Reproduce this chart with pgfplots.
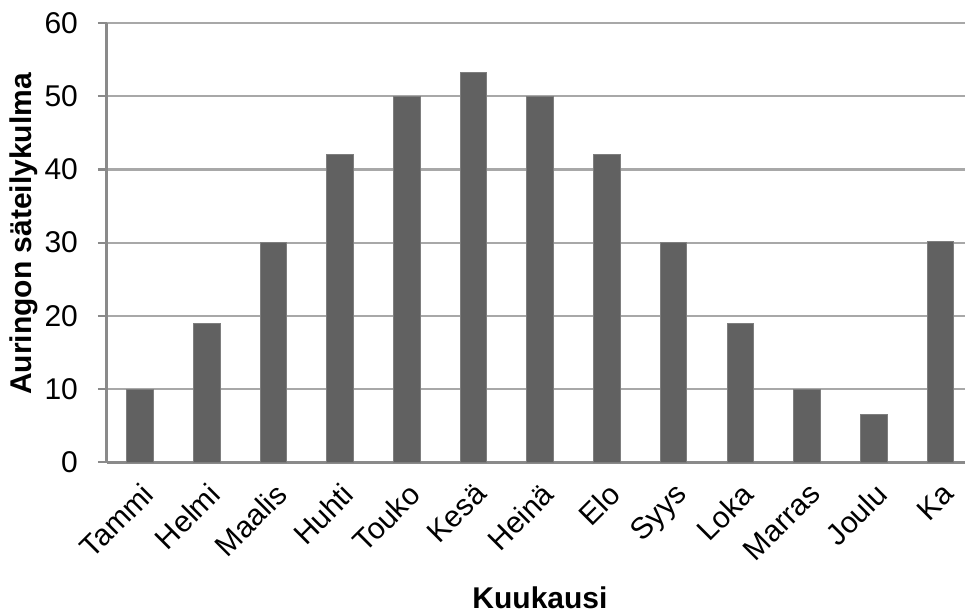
\documentclass[border=0pt]{standalone}
\usepackage{fontspec}
\setmainfont{Liberation Sans}
\usepackage{pgfplots}
\pgfplotsset{compat=1.18}

\definecolor{barfill}{HTML}{616161}
\definecolor{baredge}{HTML}{7E7E7E}
\definecolor{gridgray}{HTML}{A8A8A8}
\definecolor{axisgray}{HTML}{8A8A8A}

% Monthly solar elevation angle (degrees); Ka = yearly mean
\pgfplotstableread{
idx angle
0  10
1  19
2  30
3  42
4  50
5  53.3
6  50
7  42
8  30
9  19
10 10
11 6.5
12 30.2
}\angles

\begin{document}
\begin{tikzpicture}
\begin{axis}[
  scale only axis,
  width=429.15pt, height=219.65pt,
  xmin=-0.5, xmax=12.368,
  ymin=0, ymax=60,
  axis lines*=left,
  x axis line style={axisgray, line width=1.3pt},
  y axis line style={axisgray, line width=1.3pt},
  ymajorgrids,
  major grid style={gridgray, line width=1.1pt},
  ytick={0,10,...,60},
  xtick={0,...,12},
  xticklabels={Tammi,Helmi,Maalis,Huhti,Touko,Kesä,Heinä,Elo,Syys,Loka,Marras,Joulu,Ka},
  tick align=outside,
  major tick length=4.35pt,
  ytick style={axisgray, line width=1.1pt},
  xtick style={draw=none},
  xticklabel style={rotate=45, anchor=north east, inner sep=1pt,
    xshift=-2.5pt, yshift=-2.5pt,
    font=\fontsize{15}{18}\selectfont},
  yticklabel style={font=\fontsize{15}{18}\selectfont, xshift=-6.5pt},
  /pgf/number format/assume math mode=true,
  xlabel={Kuukausi},
  ylabel={Auringon säteilykulma},
  xlabel style={font=\bfseries\fontsize{15}{18}\selectfont,
    at={(axis description cs:0.5048,-0.3317)}, anchor=base},
  ylabel style={font=\bfseries\fontsize{15}{18}\selectfont,
    at={(axis description cs:-0.0964,0.52)}, anchor=center},
  ybar, bar width=13.3pt,
]
\addplot[fill=barfill, draw=baredge, line width=0.5pt] table[x=idx, y=angle] {\angles};
\end{axis}
\pgfresetboundingbox
\path (-53.35pt,-76.35pt) rectangle (429.15pt,231.15pt);
\end{tikzpicture}
\end{document}
